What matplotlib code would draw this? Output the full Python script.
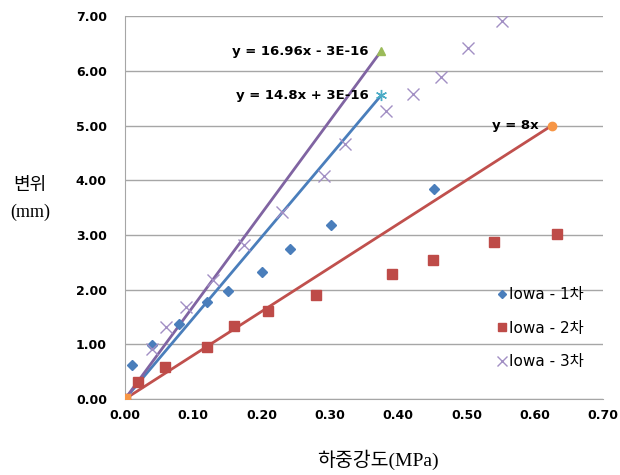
import matplotlib.pyplot as plt

plt.rcParams['font.family'] = ['DejaVu Sans', 'Noto Sans CJK KR']

x1 = [0.0, 0.010, 0.040, 0.079, 0.120, 0.151, 0.200, 0.241, 0.302, 0.453]
y1 = [0.0, 0.63, 0.98, 1.37, 1.78, 1.98, 2.33, 2.74, 3.18, 3.84]

x2 = [0.0, 0.019, 0.059, 0.120, 0.160, 0.210, 0.280, 0.391, 0.451, 0.541, 0.632]
y2 = [0.0, 0.31, 0.59, 0.95, 1.34, 1.61, 1.90, 2.29, 2.54, 2.87, 3.02]

x3 = [0.0, 0.039, 0.060, 0.089, 0.129, 0.174, 0.230, 0.291, 0.322, 0.382, 0.422, 0.463, 0.503, 0.552]
y3 = [0.0, 0.92, 1.32, 1.68, 2.18, 2.82, 3.41, 4.07, 4.66, 5.27, 5.58, 5.89, 6.41, 6.92]

# two-point reference series with their trend lines
ref_x = [0.625, 0.375, 0.375]
slopes = [8.0, 14.8, 16.96]
eq_labels = ['y = 8x', 'y = 14.8x + 3E-16', 'y = 16.96x - 3E-16']

legend_labels = ['Iowa - 1차', 'Iowa - 2차', 'Iowa - 3차']
xticks = [0.0, 0.1, 0.2, 0.3, 0.4, 0.5, 0.6, 0.7]
yticks = [0, 1, 2, 3, 4, 5, 6, 7]

fig = plt.figure(figsize=(6.2, 4.75), dpi=100)
ax = fig.add_axes([0.2016, 0.16, 0.771, 0.806])

# trend lines
line_cols = ['#C0504D', '#4A7EBB', '#8064A2']
for xe, k, c in zip(ref_x, slopes, line_cols):
    ax.plot([0, xe], [0, k * xe], color=c, lw=2, zorder=2)

# reference points (end markers)
ax.plot([0, ref_x[0]], [0, slopes[0] * ref_x[0]], ls='none', marker='o', ms=6, color='#F79646', zorder=4)
ax.plot([0, ref_x[1]], [0, slopes[1] * ref_x[1]], ls='none', marker=(6, 2, 0), ms=8, mew=1, color='#4BACC6', zorder=4)
ax.plot([0, ref_x[2]], [0, slopes[2] * ref_x[2]], ls='none', marker='^', ms=6, color='#9BBB59', zorder=4)
ax.plot([0], [0], ls='none', marker='s', ms=7, color='#F79646', zorder=5)

p1, = ax.plot(x1, y1, ls='none', marker='D', ms=5, color='#4A7EBB', label=legend_labels[0], zorder=3)
p2, = ax.plot(x2, y2, ls='none', marker='s', ms=7, color='#BE4B48', label=legend_labels[1], zorder=3)
p3, = ax.plot(x3, y3, ls='none', marker='x', ms=8, mew=1, color='#A28FC4', label=legend_labels[2], zorder=3)

# equation labels
ax.text(ref_x[0] - 0.02, slopes[0] * ref_x[0], eq_labels[0], ha='right', va='center',
        fontsize=9.5, fontweight='bold')
ax.text(ref_x[1] - 0.018, slopes[1] * ref_x[1], eq_labels[1], ha='right', va='center',
        fontsize=9.5, fontweight='bold')
ax.text(ref_x[2] - 0.018, slopes[2] * ref_x[2], eq_labels[2], ha='right', va='center',
        fontsize=9.5, fontweight='bold')

ax.set_xlim(0, 0.7)
ax.set_ylim(0, 7)
ax.set_xticks(xticks)
ax.set_yticks(yticks)
ax.set_xticklabels(['%.2f' % v for v in xticks], fontsize=9, fontweight='bold')
ax.set_yticklabels(['%.2f' % v for v in yticks], fontsize=9, fontweight='bold')
ax.tick_params(axis='x', length=0, pad=7)
ax.tick_params(axis='y', length=0, pad=13)
ax.yaxis.grid(True, color='#A6A6A6', lw=1)
ax.set_axisbelow(True)
for s in ['top', 'right']:
    ax.spines[s].set_visible(False)
for s in ['left', 'bottom']:
    ax.spines[s].set_color('#A6A6A6')

ax.legend(handles=[p1, p2, p3], loc='center left', bbox_to_anchor=(0.772, 0.185), frameon=False,
          fontsize=11, handletextpad=0.0, handlelength=1.0, labelspacing=1.2, markerscale=0.9,
          borderpad=0, borderaxespad=0)

fig.text(0.048, 0.61, '변위', fontsize=13, ha='center', va='center',
         family=['Noto Sans CJK KR', 'DejaVu Sans'])
fig.text(0.048, 0.552, '(mm)', fontsize=13, ha='center', va='center', family=['Liberation Serif'])
fig.text(0.61, 0.032, '하중강도(MPa)', fontsize=14, ha='center', va='center',
         family=['Liberation Serif', 'Noto Sans CJK KR'])

fig.savefig('out.png', dpi=100)
